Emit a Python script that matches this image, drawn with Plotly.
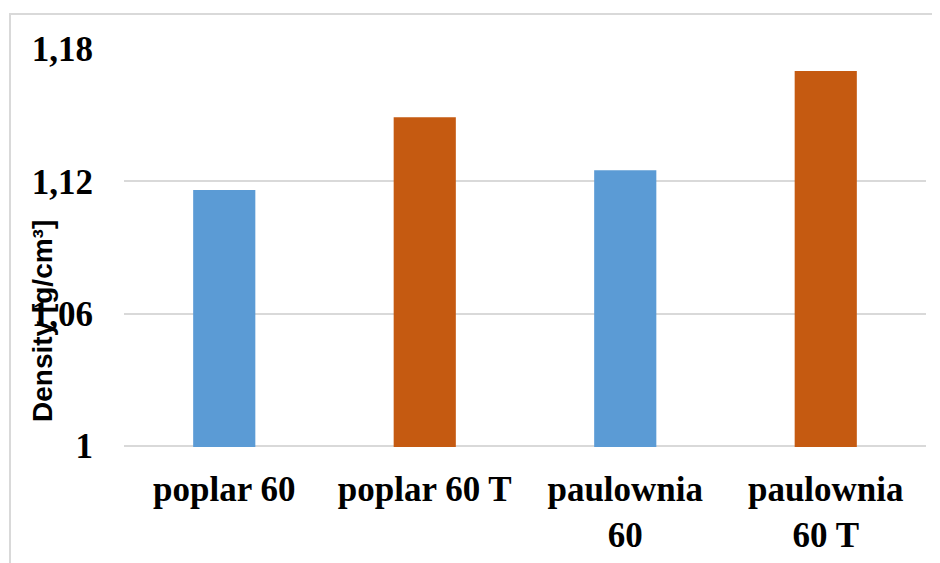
import plotly.graph_objects as go

categories = ["poplar 60", "poplar 60 T", "paulownia<br>60", "paulownia<br>60 T"]
density = [1.116, 1.149, 1.125, 1.170]
bar_colors = ["#5B9BD5", "#C55A11", "#5B9BD5", "#C55A11"]
y_ticks = [1, 1.06, 1.12, 1.18]
y_title = "Density [g/cm³]"

fig = go.Figure(go.Bar(x=categories, y=density, marker=dict(color=bar_colors, line=dict(width=0))))

# page body has an 8px margin; work in figure coordinates (window minus 8px offset)
OFF = 8
W, H = 940, 563
ml, mt = 124 - OFF, 49 - OFF
pw, ph = 802, 398
mr, mb = W - ml - pw, H - mt - ph

fig.update_layout(
    width=W, height=H,
    margin=dict(l=ml, r=mr, t=mt, b=mb, autoexpand=False),
    paper_bgcolor="white", plot_bgcolor="white",
    separators=", ",
    bargap=0.69,
    showlegend=False,
    font=dict(family="Liberation Serif", color="black"),
)
fig.update_xaxes(
    tickfont=dict(family="Liberation Serif", size=35, color="black", weight="bold"),
    showline=False, showgrid=False, ticks="", automargin=False,
    ticklabelstandoff=18,
)
fig.update_yaxes(
    range=[0.9995, 1.18], tickvals=y_ticks,
    tickfont=dict(family="Liberation Serif", size=35, color="black", weight="bold"),
    showgrid=True, gridcolor="#D9D9D9", gridwidth=2,
    zeroline=False, showline=False, ticks="", automargin=False,
    ticklabelstandoff=30,
)
fig.add_annotation(
    text=y_title, textangle=-90, showarrow=False,
    xref="paper", yref="paper",
    x=(42 - 124) / pw, y=(447 - 321) / ph,
    xanchor="center", yanchor="middle",
    font=dict(family="Liberation Sans", size=28, color="black", weight="bold"),
)
fig.add_shape(
    type="rect", xref="paper", yref="paper",
    x0=(10 - 124) / pw, x1=1.2, y0=-0.5, y1=(447 - 14) / ph,
    line=dict(color="#D9D9D9", width=2), fillcolor="rgba(0,0,0,0)", layer="below",
)
fig.write_html("out.html")
